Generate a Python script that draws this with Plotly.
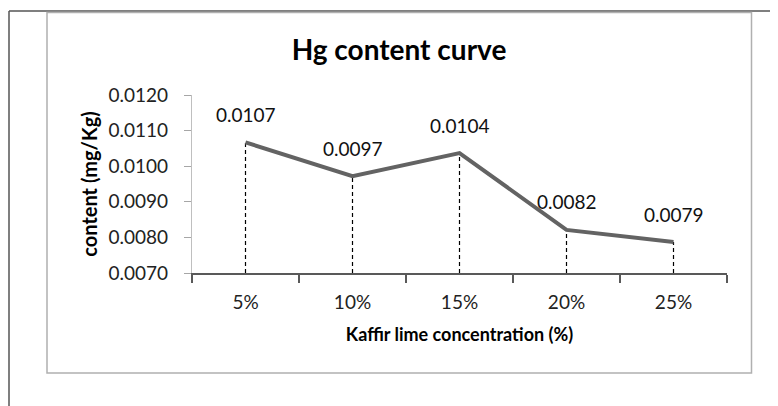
import plotly.graph_objects as go

categories = ["5%", "10%", "15%", "20%", "25%"]
hg_content = [0.01067, 0.00972, 0.01037, 0.00821, 0.00787]
y_ticks = [0.0070, 0.0080, 0.0090, 0.0100, 0.0110, 0.0120]

# page body has an 8px margin; work in window pixel coordinates
OFF = 8
W, H = 778, 406
L, R, T, B = 192, 727, 95, 273
FW, FH = W - OFF, H - OFF
FONT = "Lato"

def px_x(x):
    return (x - L) / (R - L)

def px_y(y):
    return 1 - (y - T) / (B - T)

fig = go.Figure()

# drop lines
dx, dy = [], []
for c, v in zip(categories, hg_content):
    dx += [c, c, None]
    dy += [y_ticks[0], v, None]
fig.add_trace(go.Scatter(x=dx, y=dy, mode="lines",
                         line=dict(color="black", width=1.2, dash="4px,3px"),
                         hoverinfo="skip", showlegend=False))

fig.add_trace(go.Scatter(x=categories, y=hg_content, mode="lines",
                         line=dict(color="#636363", width=4),
                         showlegend=False))

for c, v in zip(categories, hg_content):
    fig.add_annotation(x=c, y=v, text=f"{v:.4f}", showarrow=False,
                       yshift=28, font=dict(family=FONT, size=19, color="#111111"))

shapes = [
    # outer frame (left and top)
    dict(type="line", xref="paper", yref="paper", x0=px_x(9), x1=px_x(778),
         y0=px_y(11), y1=px_y(11), line=dict(color="#555555", width=1.5)),
    dict(type="line", xref="paper", yref="paper", x0=px_x(9), x1=px_x(9),
         y0=px_y(11), y1=px_y(406), line=dict(color="#555555", width=1.5)),
    # inner chart box
    dict(type="rect", xref="paper", yref="paper", x0=px_x(47), x1=px_x(751.5),
         y0=px_y(12.5), y1=px_y(373), line=dict(color="#b0b0b0", width=1.5)),
]

fig.update_layout(
    width=FW, height=FH,
    margin=dict(l=L - OFF, r=W - R, t=T - OFF, b=FH - (B - OFF), pad=0),
    paper_bgcolor="white", plot_bgcolor="white",
    shapes=shapes,
    title=dict(text="<b>Hg content curve</b>", x=px_x(399), xref="paper", xanchor="center",
               y=1 - (50 - OFF) / FH, yanchor="middle",
               font=dict(family=FONT, size=28, color="black")),
    xaxis=dict(type="category", range=[-0.5, 4.5], tickson="boundaries",
               ticks="outside", ticklen=8, tickcolor="#595959", tickwidth=1.5,
               showline=True, linecolor="#595959", linewidth=1.5,
               showgrid=False, zeroline=False, ticklabelstandoff=11,
               tickfont=dict(family=FONT, size=19, color="#222222"),
               title=dict(text="<b>Kaffir lime concentration (%)</b>", standoff=17,
                          font=dict(family=FONT, size=18, color="black"))),
    yaxis=dict(range=[y_ticks[0], y_ticks[-1]], tickvals=y_ticks, tickformat=".4f",
               ticks="outside", ticklen=7, tickcolor="#a6a6a6", tickwidth=1.2,
               showline=True, linecolor="#bfbfbf", linewidth=1.2,
               showgrid=False, zeroline=False, ticklabelstandoff=12,
               tickfont=dict(family=FONT, size=19, color="#222222"),
               title=dict(text="<b>content (mg/Kg)</b>", standoff=5,
                          font=dict(family=FONT, size=20, color="black"))),
)

fig.write_html("out.html")
